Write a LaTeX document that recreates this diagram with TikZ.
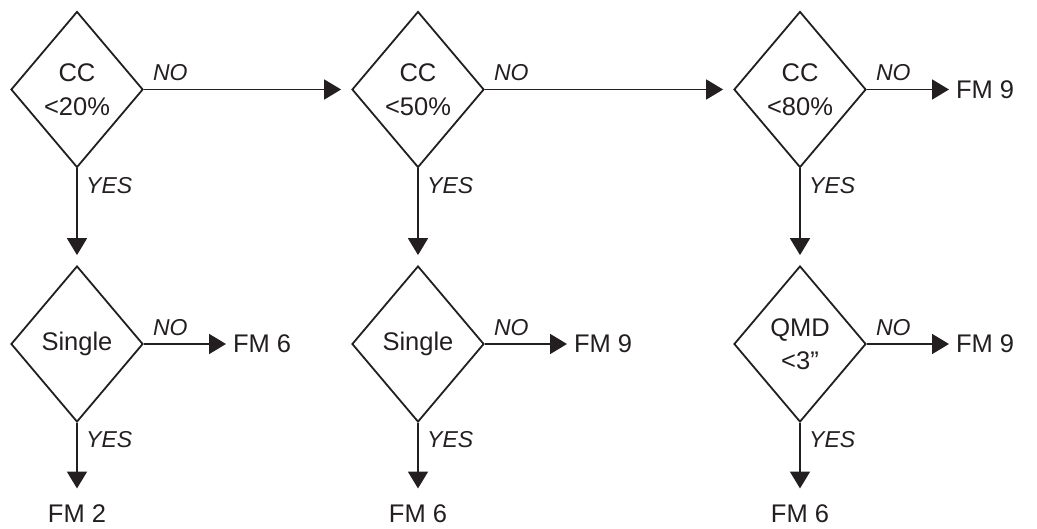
\documentclass[tikz,border=0pt]{standalone}
\usepackage{fontspec}
\setmainfont{Liberation Sans}
\usetikzlibrary{shapes.geometric,arrows.meta}
\definecolor{ink}{HTML}{231F20}
\begin{document}
\begin{tikzpicture}[x=1pt,y=-1pt,
  every node/.style={text=ink},
  decision/.style={draw=ink, line width=1.8pt, shape=diamond, minimum width=132pt,
    minimum height=156pt, inner sep=0pt, align=center,
    font=\fontsize{25.5}{33.5}\selectfont},
  result/.style={inner sep=0pt, font=\fontsize{25.5}{30}\selectfont},
  lbl/.style={inner sep=0pt, font=\fontsize{23}{27}\selectfont\itshape, anchor=west},
  conn/.style={draw=ink, line width=1.8pt, -{Triangle[length=17pt,width=20pt]}},
  link/.style={conn, shorten >=10pt}
]
\useasboundingbox (0,0) rectangle (1037,529);

% upper row
\node[decision] (d1) at (77,89.5) {CC\\<20\%};
\node[decision] (d2) at (418,89.5) {CC\\<50\%};
\node[decision] (d3) at (800,89.5) {CC\\<80\%};
% lower row
\node[decision] (s1) at (77,344) {Single};
\node[decision] (s2) at (418,344) {Single};
\node[decision] (s3) at (800,344) {QMD\\<3”};

% results
\node[result, anchor=west, outer xsep=7pt] (r3) at (949,89.5) {FM 9};
\node[result, anchor=west, outer xsep=7pt] (q1) at (226,344) {FM 6};
\node[result, anchor=west, outer xsep=7pt] (q2) at (567,344) {FM 9};
\node[result, anchor=west, outer xsep=7pt] (q3) at (949,344) {FM 9};
\node[result, anchor=north, outer ysep=16.5pt] (b1) at (77,488.5) {FM 2};
\node[result, anchor=north, outer ysep=16.5pt] (b2) at (418,488.5) {FM 6};
\node[result, anchor=north, outer ysep=16.5pt] (b3) at (800,488.5) {FM 6};

% connectors
\draw[link] (d1.east) -- (d2.west);
\draw[link] (d2.east) -- (d3.west);
\draw[conn] (d3.east) -- (r3.west);
\draw[link] (d1.south) -- (s1.north);
\draw[link] (d2.south) -- (s2.north);
\draw[link] (d3.south) -- (s3.north);
\draw[conn] (s1.east) -- (q1.west);
\draw[conn] (s2.east) -- (q2.west);
\draw[conn] (s3.east) -- (q3.west);
\draw[conn] (s1.south) -- (b1.north);
\draw[conn] (s2.south) -- (b2.north);
\draw[conn] (s3.south) -- (b3.north);

% labels
\foreach \d in {d1,d2,d3,s1,s2,s3}{
  \node[lbl] (no-\d) at ([shift={(9,-16.5)}]\d.east) {NO};
  \node[lbl] (yes-\d) at ([shift={(9,17)}]\d.south) {YES};
}
\end{tikzpicture}
\end{document}
